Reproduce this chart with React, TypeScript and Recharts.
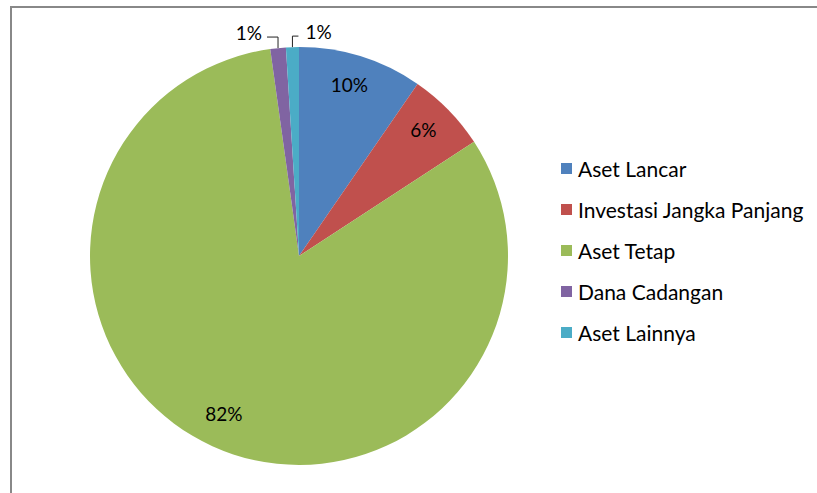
import { Cell, Pie, PieChart } from "recharts";

const categories = ["Aset Lancar", "Investasi Jangka Panjang", "Aset Tetap", "Dana Cadangan", "Aset Lainnya"];
const shares = [9.6, 6.2, 82.0, 1.2, 1.0];
const colors = ["#4F81BD", "#C0504D", "#9BBB59", "#8064A2", "#4BACC6"];

const data = categories.map((name, i) => ({ name, value: shares[i] }));
const font = "Lato, 'Open Sans', sans-serif";
const RAD = Math.PI / 180;

function renderLabel(props: any) {
  const { cx, cy, midAngle, outerRadius, percent, index } = props;
  const text = `${Math.round(percent * 100)}%`;
  const cos = Math.cos(-midAngle * RAD);
  const sin = Math.sin(-midAngle * RAD);
  if (percent < 0.03) {
    // small slices: label outside with an elbow leader line
    const ex = cx + outerRadius * cos;
    const ey = cy + outerRadius * sin;
    const ly = ey - 11;
    const left = ex < cx - 12;
    const hx = left ? ex - 11 : ex + 6;
    return (
      <g key={`l-${index}`}>
        <polyline points={`${ex},${ey} ${ex},${ly} ${hx},${ly}`} fill="none" stroke="#222" strokeWidth={1} />
        <text x={left ? hx - 5 : hx + 7} y={ly - 5} textAnchor={left ? "end" : "start"} dominantBaseline="central" fill="#000" fontSize={19} fontFamily={font}>
          {text}
        </text>
      </g>
    );
  }
  const r = outerRadius * 0.845;
  return (
    <text key={`l-${index}`} x={cx + r * cos - 2} y={cy + r * sin - 3} textAnchor="middle" dominantBaseline="central" fill="#000" fontSize={19} fontFamily={font}>
      {text}
    </text>
  );
}

function LegendBox() {
  return (
    <div style={{ position: "absolute", left: 561, top: 148, fontFamily: font, fontSize: 21, color: "#000" }}>
      {categories.map((name, i) => (
        <div key={name} style={{ display: "flex", alignItems: "center", height: 41, whiteSpace: "nowrap" }}>
          <span style={{ display: "inline-block", width: 11, height: 11, background: colors[i], marginRight: 6 }} />
          <span>{name}</span>
        </div>
      ))}
    </div>
  );
}

export default function App() {
  return (
    <div style={{ position: "absolute", left: 0, top: 0, width: 817, height: 493, background: "#fff", overflow: "hidden" }}>
      <div style={{ position: "absolute", left: 10, top: 6, width: 900, height: 600, borderTop: "2px solid #888", borderLeft: "2px solid #888" }} />
      <PieChart width={817} height={493} margin={{ top: 0, right: 0, bottom: 0, left: 0 }} style={{ position: "absolute", left: 0, top: 0 }}>
        <Pie
          data={data}
          dataKey="value"
          nameKey="name"
          cx={299}
          cy={256}
          outerRadius={209}
          startAngle={90}
          endAngle={-270}
          stroke="none"
          label={renderLabel}
          labelLine={false}
          isAnimationActive={false}
        >
          {data.map((d, i) => (
            <Cell key={d.name} fill={colors[i]} />
          ))}
        </Pie>
      </PieChart>
      <LegendBox />
    </div>
  );
}
